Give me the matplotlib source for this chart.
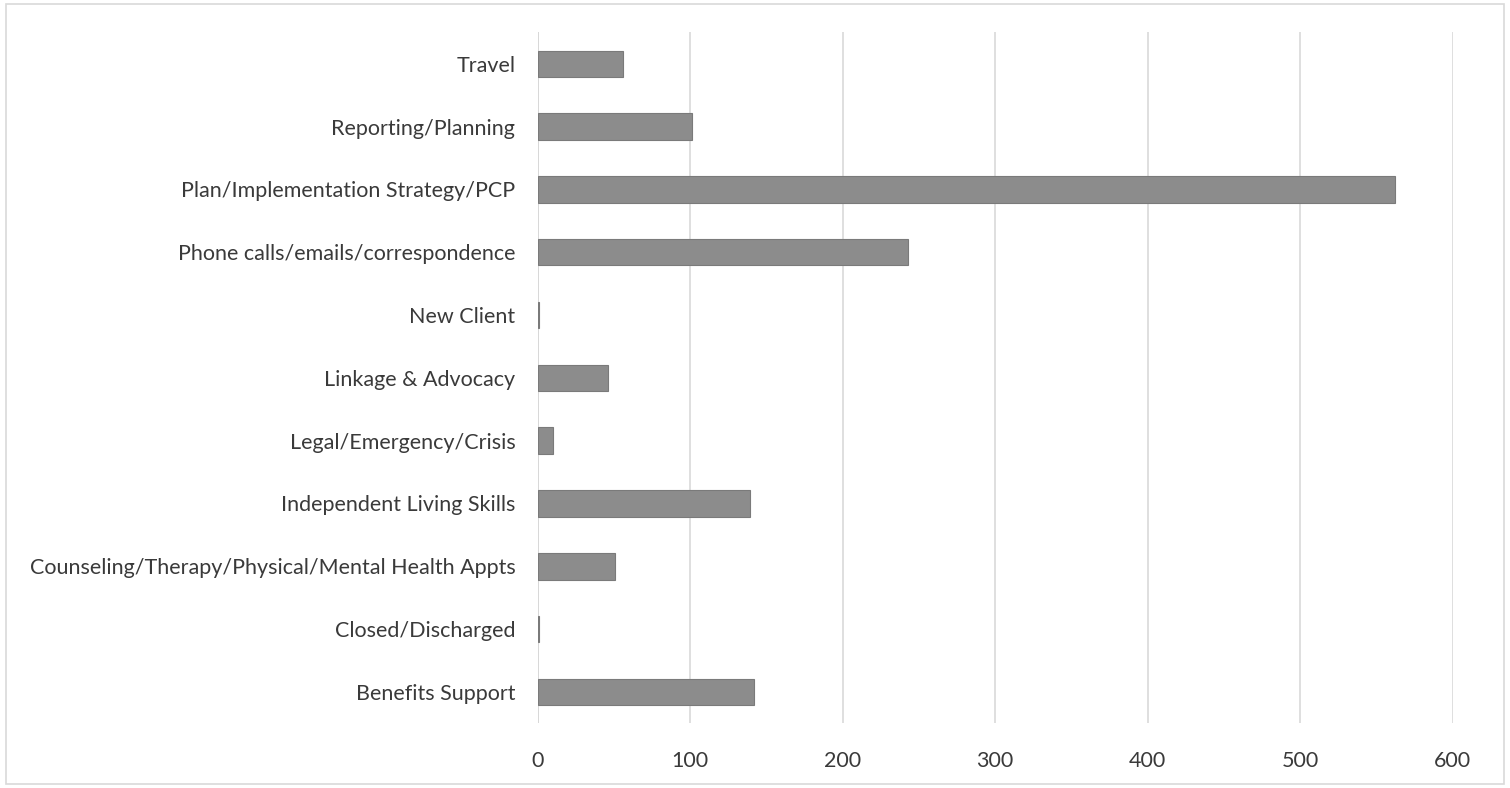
import matplotlib.pyplot as plt
from matplotlib.patches import Rectangle

plt.rcParams["font.family"] = ["Lato", "DejaVu Sans"]

categories = [
    "Benefits Support",
    "Closed/Discharged",
    "Counseling/Therapy/Physical/Mental Health Appts",
    "Independent Living Skills",
    "Legal/Emergency/Crisis",
    "Linkage & Advocacy",
    "New Client",
    "Phone calls/emails/correspondence",
    "Plan/Implementation Strategy/PCP",
    "Reporting/Planning",
    "Travel",
]
values = [142, 1, 51, 139, 10, 46, 1, 243, 562, 101, 56]
xticks = [0, 100, 200, 300, 400, 500, 600]

fig = plt.figure(figsize=(15.1, 7.88), dpi=100)
ax = fig.add_axes([0.356, 0.082, 0.606, 0.877])

ax.barh(range(len(categories)), values, height=0.42, color="#8c8c8c",
        edgecolor="#7a7a7a", linewidth=0.8, zorder=3)

ax.set_xlim(0, 600)
ax.set_ylim(-0.5, len(categories) - 0.5)
ax.set_xticks(xticks)
ax.set_yticks(range(len(categories)), categories)
ax.grid(axis="x", color="#d9d9d9", linewidth=1.2, zorder=0)
for s in ax.spines.values():
    s.set_visible(False)
ax.axvline(0, color="#cfcfcf", linewidth=1.2, zorder=1)
ax.tick_params(axis="both", length=0, labelsize=15.5, labelcolor="#3a3a3a")
ax.tick_params(axis="x", pad=20)
ax.tick_params(axis="y", pad=16)

fig.patches.append(Rectangle((0.004, 0.005), 0.992, 0.99, transform=fig.transFigure,
                             fill=False, edgecolor="#d9d9d9", linewidth=1.2))

fig.savefig("out.png", dpi=100)
